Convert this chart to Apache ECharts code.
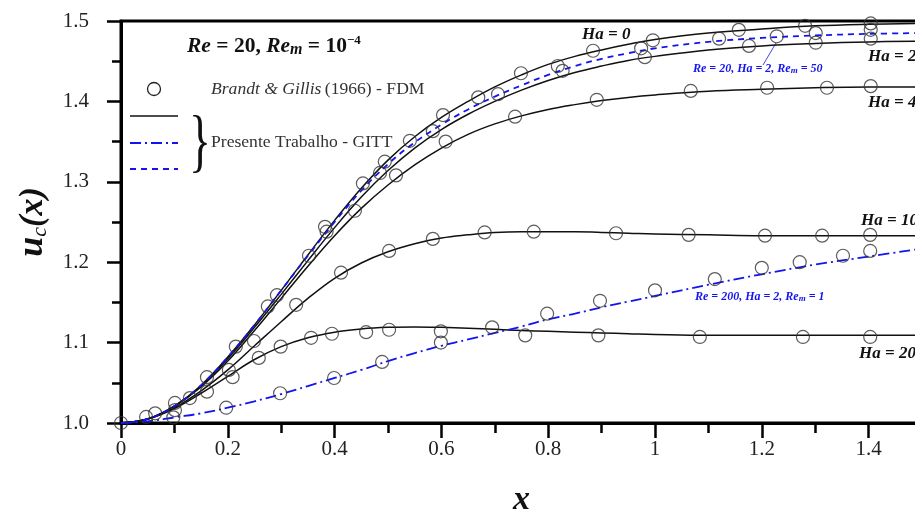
<!DOCTYPE html>
<html><head><meta charset="utf-8">
<script src="https://cdn.jsdelivr.net/npm/echarts@6/dist/echarts.min.js"></script>
<style>html,body{margin:0;padding:0;background:#fff}#c{width:915px;height:515px}</style>
</head><body><div id="c"></div>
<script>
// ---- data ----
const xs = [0,0.05,0.1,0.15,0.2,0.25,0.3,0.35,0.4,0.45,0.5,0.55,0.6,0.65,0.7,0.75,0.8,0.85,0.9,0.95,1.0,1.1,1.2,1.3,1.4,1.5];
const ha0   = [1.0,1.005,1.021,1.047,1.082,1.122,1.165,1.209,1.252,1.292,1.327,1.356,1.380,1.400,1.418,1.433,1.446,1.456,1.464,1.471,1.477,1.485,1.490,1.494,1.496,1.497];
const ha2   = [1.0,1.005,1.021,1.046,1.080,1.119,1.160,1.202,1.243,1.281,1.314,1.342,1.365,1.384,1.400,1.414,1.426,1.436,1.444,1.451,1.456,1.464,1.469,1.472,1.474,1.475];
const rem50 = [1.0,1.005,1.021,1.047,1.082,1.122,1.165,1.208,1.250,1.289,1.322,1.349,1.371,1.390,1.406,1.420,1.433,1.444,1.453,1.460,1.466,1.474,1.479,1.482,1.484,1.485];
const ha4   = [1.0,1.005,1.021,1.045,1.077,1.115,1.155,1.195,1.233,1.267,1.296,1.321,1.342,1.359,1.372,1.382,1.390,1.396,1.401,1.405,1.408,1.4125,1.415,1.417,1.418,1.418];
const ha10  = [1.0,1.005,1.019,1.040,1.066,1.096,1.126,1.155,1.180,1.199,1.213,1.223,1.230,1.234,1.237,1.238,1.238,1.238,1.237,1.236,1.235,1.234,1.233,1.233,1.233,1.233];
const ha20  = [1.0,1.005,1.018,1.037,1.058,1.079,1.095,1.106,1.113,1.117,1.119,1.1195,1.119,1.118,1.1165,1.115,1.114,1.113,1.112,1.111,1.110,1.109,1.109,1.109,1.109,1.109];
const re200 = [1.0,1.002,1.007,1.012,1.019,1.027,1.036,1.046,1.056,1.066,1.077,1.087,1.096,1.104,1.112,1.120,1.129,1.136,1.144,1.151,1.158,1.172,1.185,1.197,1.207,1.217];
const fdmPoints = [
 [0,1.0],[0.047,1.0075],[0.064,1.012],[0.101,1.025],[0.101,1.016],[0.098,1.007],[0.129,1.031],
 [0.161,1.057],[0.161,1.039],[0.197,1.019],[0.202,1.066],[0.209,1.057],[0.215,1.095],[0.249,1.102],
 [0.258,1.081],[0.275,1.145],[0.292,1.159],[0.298,1.037],[0.299,1.095],[0.328,1.147],[0.352,1.208],
 [0.382,1.244],[0.385,1.238],[0.356,1.106],[0.395,1.111],[0.412,1.187],[0.399,1.056],[0.438,1.264],
 [0.453,1.298],[0.459,1.113],[0.485,1.311],[0.494,1.325],[0.489,1.076],[0.502,1.214],[0.502,1.116],
 [0.515,1.308],[0.541,1.351],[0.584,1.363],[0.584,1.229],[0.599,1.114],[0.599,1.100],[0.603,1.383],
 [0.608,1.350],[0.669,1.405],[0.681,1.237],[0.695,1.119],[0.706,1.409],[0.738,1.381],[0.749,1.435],
 [0.757,1.109],[0.773,1.238],[0.798,1.136],[0.818,1.444],[0.827,1.438],[0.884,1.463],[0.891,1.402],
 [0.894,1.109],[0.897,1.152],[0.927,1.236],[0.974,1.466],[0.981,1.455],[0.996,1.476],[1.0,1.165],
 [1.063,1.234],[1.067,1.413],[1.084,1.107],[1.112,1.179],[1.12,1.478],[1.157,1.489],[1.176,1.469],
 [1.2,1.193],[1.206,1.233],[1.21,1.417],[1.228,1.481],[1.271,1.2],[1.277,1.107],[1.281,1.494],
 [1.301,1.485],[1.301,1.473],[1.313,1.233],[1.322,1.417],[1.352,1.208],[1.403,1.214],[1.403,1.234],
 [1.403,1.107],[1.404,1.497],[1.404,1.489],[1.404,1.478],[1.404,1.419]
];
const xTicks = {min:0, max:1.5, interval:0.2};
const yTicks = {min:1.0, max:1.5, interval:0.1};

// ---- chart ----
const F = '"Liberation Serif","Times New Roman",serif';
const BLUE = '#1414f0';
const chart = echarts.init(document.getElementById('c'), null, {renderer:'canvas'});
function pairs(ys){ return xs.map((x,i)=>[x,ys[i]]); }
function curve(name, ys, color, type, width){
  return {type:'line', name, data:pairs(ys), showSymbol:false, smooth:0.4,
    lineStyle:{color, type, width}, z:3, silent:true};
}
const haLbl = {fontFamily:F, fontSize:17, fontWeight:'bold', fontStyle:'italic', fill:'#111'};
const option = {
  animation:false,
  backgroundColor:'#fff',
  grid:{left:121, right:-7, top:21, bottom:92, containLabel:false, outerBoundsMode:'none',
    show:true, borderColor:'#000', borderWidth:3},
  xAxis:{type:'value', min:xTicks.min, max:xTicks.max, interval:xTicks.interval,
    name:'x', nameLocation:'middle', nameGap:60,
    nameTextStyle:{fontFamily:F, fontSize:34, fontWeight:'bold', fontStyle:'italic', color:'#111'},
    axisLine:{lineStyle:{color:'#000', width:3}},
    axisTick:{inside:false, length:15, lineStyle:{color:'#000', width:2.5}},
    minorTick:{show:true, splitNumber:2, length:10, lineStyle:{color:'#000', width:2.5}},
    axisLabel:{fontFamily:F, fontSize:21, color:'#222', margin:16, showMaxLabel:false},
    splitLine:{show:false}, minorSplitLine:{show:false}},
  yAxis:{type:'value', min:yTicks.min, max:yTicks.max, interval:yTicks.interval,
    name:'{u|u}{c|c}{p|(x)}', nameLocation:'middle', nameGap:70, nameRotate:90,
    nameTextStyle:{rich:{
      u:{fontFamily:F, fontSize:36, fontWeight:'bold', fontStyle:'italic', color:'#111'},
      c:{fontFamily:F, fontSize:22, fontStyle:'italic', color:'#111', verticalAlign:'bottom', padding:[14,0,0,0]},
      p:{fontFamily:F, fontSize:34, fontWeight:'bold', fontStyle:'italic', color:'#111'}}},
    axisLine:{lineStyle:{color:'#000', width:3}},
    axisTick:{inside:false, length:14, lineStyle:{color:'#000', width:2.5}},
    minorTick:{show:true, splitNumber:2, length:9, lineStyle:{color:'#000', width:2.5}},
    axisLabel:{fontFamily:F, fontSize:21, color:'#222', margin:32, formatter:v=>v.toFixed(1)},
    splitLine:{show:false}, minorSplitLine:{show:false}},
  series:[
    curve('Ha=0', ha0, '#111', 'solid', 1.5),
    curve('Ha=2', ha2, '#111', 'solid', 1.5),
    curve('Ha=4', ha4, '#111', 'solid', 1.5),
    curve('Ha=10', ha10, '#111', 'solid', 1.5),
    curve('Ha=20', ha20, '#111', 'solid', 1.5),
    curve('Re=20,Ha=2,Rem=50', rem50, BLUE, [6,5], 1.8),
    curve('Re=200,Ha=2,Rem=1', re200, BLUE, [11,4,2,4], 1.8),
    {type:'scatter', name:'Brandt & Gillis (1966) - FDM', data:fdmPoints, symbol:'circle', symbolSize:13,
      itemStyle:{color:'rgba(0,0,0,0)', borderColor:'#333', borderWidth:1.2}, z:4, silent:true}
  ],
  graphic:[
    {type:'text', left:187, top:34, style:{rich:{
        bi:{fontFamily:F, fontSize:21.5, fontWeight:'bold', fontStyle:'italic', fill:'#111'},
        b:{fontFamily:F, fontSize:21.5, fontWeight:'bold', fill:'#111'},
        sub:{fontFamily:F, fontSize:16, fontWeight:'bold', fontStyle:'italic', fill:'#111', verticalAlign:'bottom', padding:[8,0,0,0]},
        sup:{fontFamily:F, fontSize:13, fontWeight:'bold', fill:'#111', verticalAlign:'top', padding:[0,0,10,0]}},
      text:'{bi|Re}{b| = 20, }{bi|Re}{sub|m}{b| = 10}{sup|−4}'}},
    {type:'circle', shape:{cx:154, cy:89, r:6.5}, style:{fill:'none', stroke:'#222', lineWidth:1.3}},
    {type:'text', left:211, top:80, style:{rich:{
        i:{fontFamily:F, fontSize:17.6, fontStyle:'italic', fill:'#333'},
        n:{fontFamily:F, fontSize:17.6, fill:'#333'}},
      text:'{i|Brandt & Gillis} {n|(1966) - FDM}'}},
    {type:'line', shape:{x1:130, y1:116, x2:178, y2:116}, style:{stroke:'#111', lineWidth:1.5}},
    {type:'line', shape:{x1:130, y1:143, x2:178, y2:143}, style:{stroke:BLUE, lineWidth:1.8, lineDash:[11,4,2,4]}},
    {type:'line', shape:{x1:130, y1:169, x2:178, y2:169}, style:{stroke:BLUE, lineWidth:1.8, lineDash:[6,5]}},
    {type:'text', x:189, y:111, style:{text:'}', fontFamily:F, fontSize:70, fill:'#111'}, scaleX:0.65},
    {type:'text', left:211, top:133, style:{text:'Presente Trabalho - GITT', fontFamily:F, fontSize:17.6, fill:'#333'}},
    {type:'text', left:582, top:26, style:Object.assign({text:'Ha = 0'}, haLbl)},
    {type:'text', left:868, top:48, style:Object.assign({text:'Ha = 2'}, haLbl)},
    {type:'text', left:868, top:94, style:Object.assign({text:'Ha = 4'}, haLbl)},
    {type:'text', left:861, top:212, style:Object.assign({text:'Ha = 10'}, haLbl)},
    {type:'text', left:859, top:345, style:Object.assign({text:'Ha = 20'}, haLbl)},
    {type:'text', left:693, top:63, style:{rich:{
        t:{fontFamily:F, fontSize:12, fontWeight:'bold', fontStyle:'italic', fill:BLUE},
        s:{fontFamily:F, fontSize:9, fontWeight:'bold', fontStyle:'italic', fill:BLUE, verticalAlign:'bottom'}},
      text:'{t|Re = 20, Ha = 2, Re}{s|m}{t| = 50}'}},
    {type:'line', shape:{x1:776, y1:43, x2:763, y2:65}, style:{stroke:BLUE, lineWidth:0.8}},
    {type:'text', left:695, top:291, style:{rich:{
        t:{fontFamily:F, fontSize:12, fontWeight:'bold', fontStyle:'italic', fill:BLUE},
        s:{fontFamily:F, fontSize:9, fontWeight:'bold', fontStyle:'italic', fill:BLUE, verticalAlign:'bottom'}},
      text:'{t|Re = 200, Ha = 2, Re}{s|m}{t| = 1}'}}
  ]
};
chart.setOption(option);
</script></body></html>
